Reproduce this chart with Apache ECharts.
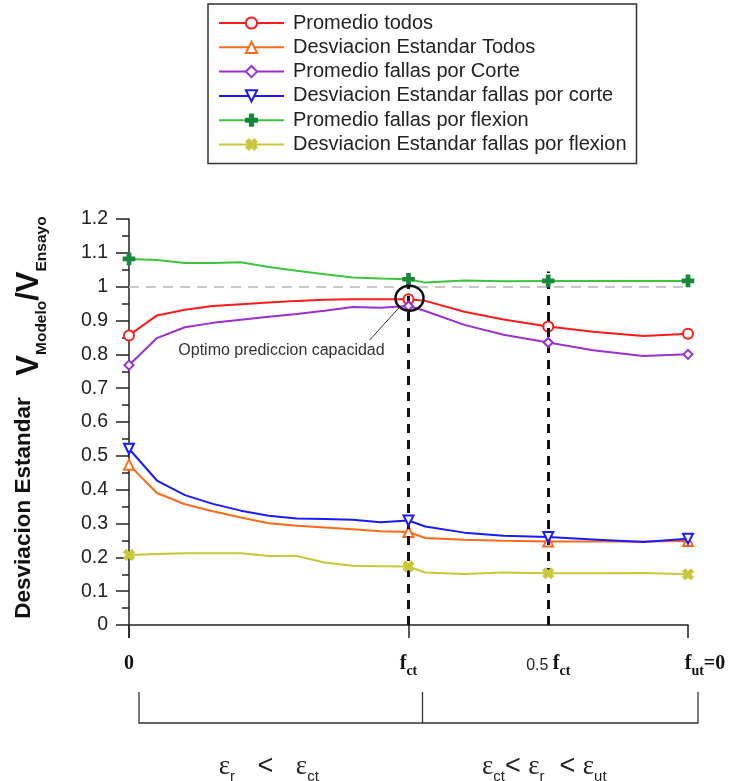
<!DOCTYPE html>
<html><head><meta charset="utf-8">
<script src="https://cdn.jsdelivr.net/npm/echarts@6/dist/echarts.min.js"></script>
<style>html,body{margin:0;padding:0;background:#fff}#c{width:735px;height:781px}</style>
</head><body><div id="c"></div>
<script>
// x positions along the axis (0 = 0, 0.5 = fct, 0.75 = 0.5 fct, 1 = fut=0)
const xPos = [0, 0.05, 0.1, 0.15, 0.2, 0.25, 0.3, 0.35, 0.4, 0.45, 0.5, 0.53, 0.6, 0.67, 0.75, 0.83, 0.92, 1.0];
const promTodos   = [0.856,0.915,0.932,0.943,0.948,0.953,0.958,0.961,0.963,0.963,0.963,0.958,0.926,0.903,0.882,0.867,0.854,0.861];
const desvTodos   = [0.474,0.390,0.357,0.336,0.318,0.301,0.293,0.288,0.283,0.277,0.275,0.257,0.252,0.249,0.247,0.247,0.247,0.248];
const promCorte   = [0.768,0.848,0.880,0.893,0.902,0.911,0.919,0.929,0.940,0.938,0.943,0.928,0.887,0.858,0.835,0.812,0.795,0.800];
const desvCorte   = [0.521,0.427,0.384,0.358,0.338,0.323,0.315,0.313,0.311,0.304,0.309,0.291,0.273,0.264,0.260,0.253,0.245,0.255];
const promFlexion = [1.082,1.079,1.070,1.070,1.072,1.058,1.047,1.037,1.027,1.024,1.022,1.012,1.018,1.016,1.017,1.017,1.017,1.017];
const desvFlexion = [0.207,0.210,0.212,0.212,0.212,0.204,0.204,0.185,0.175,0.174,0.173,0.155,0.151,0.155,0.153,0.153,0.154,0.150];
const markerX = [0, 0.5, 0.75, 1];
const xLabelValues = [0, 0.5, 0.75, 1];
const xLabelTexts = ['{b|0}', '{b|f}{bs|ct}', '{n|0.5 }{b|f}{bs|ct}', '{pad|}{b|f}{bs|ut}{b|=0}'];
const xTickValues = [0, 0.5, 1];
const refLineY = 1.0;
const vLines = [[0.5, 1.01], [0.75, 1.045]];
const seriesNames = ['Promedio todos','Desviacion Estandar Todos','Promedio fallas por Corte','Desviacion Estandar fallas por corte','Promedio fallas por flexion','Desviacion Estandar fallas por flexion'];
const seriesValues = [promTodos, desvTodos, promCorte, desvCorte, promFlexion, desvFlexion];

const PLUS = 'path://M3.6,0H6.4V3.6H10V6.4H6.4V10H3.6V6.4H0V3.6H3.6Z';
const styles = [
  {line:'#ff1a1a', mk:'#ff1a1a', symbol:'emptyCircle', size:10, rot:0},
  {line:'#ff6a1a', mk:'#ff6a1a', symbol:'emptyTriangle', size:10, rot:0},
  {line:'#9b30d0', mk:'#9b30d0', symbol:'emptyDiamond', size:9, rot:0},
  {line:'#1a1aff', mk:'#1a1aff', symbol:'emptyTriangle', size:10, rot:180},
  {line:'#3ec43e', mk:'#17893a', symbol:PLUS, size:11, rot:0},
  {line:'#c9c83a', mk:'#c9c83a', symbol:PLUS, size:11, rot:45}
];

const series = seriesValues.map((vals, i) => ({
  name: seriesNames[i],
  type: 'line',
  symbol: styles[i].symbol,
  symbolSize: styles[i].size,
  symbolRotate: styles[i].rot,
  showSymbol: true,
  lineStyle: {color: styles[i].line, width: 2},
  itemStyle: {color: styles[i].mk, borderColor: styles[i].mk, borderWidth: 1.6},
  emphasis: {disabled: true},
  z: 3 + i,
  data: xPos.map((x, k) => markerX.includes(x) ? {value: [x, vals[k]]} : {value: [x, vals[k]], symbol: 'none'})
}));

series.push({
  type: 'line', name: '_ref', data: [], silent: true, z: 1,
  markLine: {
    silent: true, symbol: 'none', animation: false,
    label: {show: false},
    lineStyle: {color: '#c8c8c8', width: 2, type: [10, 7]},
    data: [[{coord: [0, refLineY]}, {coord: [1, refLineY]}]]
  }
});
series.push({
  type: 'line', name: '_v', data: [], silent: true, z: 20,
  markLine: {
    silent: true, symbol: 'none', animation: false,
    label: {show: false},
    lineStyle: {color: '#111', width: 3, type: [9, 7]},
    data: vLines.map(v => [{coord: [v[0], 0]}, {coord: [v[0], v[1]]}])
  }
});

const option = {
  animation: false,
  backgroundColor: '#fff',
  grid: {left: 129, right: 47, top: 219, bottom: 156, containLabel: false},
  legend: {
    data: seriesNames,
    orient: 'vertical',
    left: 208, top: 4,
    padding: [9, 10, 9, 10],
    borderColor: '#333', borderWidth: 1.5,
    itemWidth: 65, itemHeight: 14, itemGap: 4.3,
    textStyle: {fontFamily: 'Liberation Sans, Arial', fontSize: 20, color: '#222', padding: [0, 0, 0, 4]},
    selectedMode: false
  },
  xAxis: {
    type: 'value', min: 0, max: 1,
    splitLine: {show: false},
    axisLine: {onZero: false, lineStyle: {color: '#222', width: 1.5}},
    axisTick: {show: true, inside: false, length: 13, customValues: xTickValues, lineStyle: {color: '#222', width: 1.5}},
    axisLabel: {
      show: true, margin: 25,
      customValues: xLabelValues,
      formatter: v => xLabelTexts[xLabelValues.indexOf(v)],
      rich: {
        b: {fontFamily: 'Liberation Serif', fontWeight: 'bold', fontSize: 20, color: '#111', verticalAlign: 'bottom', lineHeight: 24},
        bs: {fontFamily: 'Liberation Serif', fontWeight: 'bold', fontSize: 14, color: '#111', verticalAlign: 'bottom', lineHeight: 16, padding: [0, 0, -4, 0]},
        n: {fontFamily: 'Liberation Sans', fontSize: 16, color: '#222', verticalAlign: 'bottom', lineHeight: 24},
        pad: {width: 34}
      }
    }
  },
  yAxis: {
    type: 'value', min: 0, max: 1.2, interval: 0.1,
    splitLine: {show: false},
    axisLine: {show: true, lineStyle: {color: '#222', width: 1.5}},
    axisTick: {show: true, inside: false, length: 13, lineStyle: {color: '#222', width: 1.5}},
    minorTick: {show: true, splitNumber: 2, length: 7, lineStyle: {color: '#222', width: 1.5}},
    axisLabel: {
      margin: 21, fontFamily: 'Liberation Sans, Arial', fontSize: 19.5, color: '#222',
      formatter: v => String(Math.round(v * 10) / 10)
    }
  },
  series: series
};

const chart = echarts.init(document.getElementById('c'));
chart.setOption(option);

const px = (x, y) => chart.convertToPixel({gridIndex: 0}, [x, y]);
const iOpt = xPos.indexOf(0.5);
const optPt = px(0.5, promTodos[iOpt]);
const o = px(0, 0), f = px(0.5, 0), e = px(1, 0);
const brTop = o[1] + 67, brBot = o[1] + 98;

const epsRich = {
  e: {fontFamily: 'Liberation Serif', fontSize: 27, fill: '#222', verticalAlign: 'bottom', lineHeight: 28},
  s: {fontFamily: 'Liberation Sans', fontSize: 15, fill: '#222', verticalAlign: 'bottom', lineHeight: 15, padding: [0, 0, -4, 0]},
  o: {fontFamily: 'Liberation Sans', fontSize: 27, fill: '#222', verticalAlign: 'bottom', lineHeight: 28}
};

const graphic = [
  // y axis extension below zero
  {type: 'line', shape: {x1: o[0], y1: o[1], x2: o[0], y2: o[1] + 13}, style: {stroke: '#222', lineWidth: 1.5}},
  // ellipse around the optimum
  {type: 'ellipse', shape: {cx: optPt[0] + 1, cy: optPt[1] - 1, rx: 14, ry: 12.5}, style: {stroke: '#111', lineWidth: 2.5, fill: 'none'}, z: 30},
  // leader line
  {type: 'line', shape: {x1: optPt[0] - 9, y1: optPt[1] + 8, x2: optPt[0] - 39, y2: optPt[1] + 41}, style: {stroke: '#333', lineWidth: 1}, z: 30},
  {type: 'text', x: optPt[0] - 127, y: optPt[1] + 51, z: 30,
   style: {text: 'Optimo prediccion capacidad', fontFamily: 'Liberation Sans, Arial', fontSize: 16, fill: '#333', align: 'center', verticalAlign: 'middle'}},
  // y axis titles
  {type: 'text', x: 29, y: 296, rotation: Math.PI / 2,
   style: {text: '{v|V}{s|Modelo}{v|/V}{s|Ensayo}', align: 'center', verticalAlign: 'middle',
     rich: {
       v: {fontFamily: 'Liberation Sans, Arial', fontWeight: 'bold', fontSize: 31, fill: '#111', verticalAlign: 'bottom', lineHeight: 32},
       s: {fontFamily: 'Liberation Sans, Arial', fontWeight: 'bold', fontSize: 15.5, fill: '#111', verticalAlign: 'bottom', lineHeight: 15, padding: [0, 0, -5, 0]}
     }}},
  {type: 'text', x: 24, y: 508, rotation: Math.PI / 2,
   style: {text: 'Desviacion Estandar', align: 'center', verticalAlign: 'middle',
     fontFamily: 'Liberation Sans, Arial', fontWeight: 'bold', fontSize: 22.5, fill: '#111'}},
  // bracket
  {type: 'polyline', shape: {points: [[o[0] + 10, brTop], [o[0] + 10, brBot], [e[0] + 10, brBot], [e[0] + 10, brTop]]}, style: {stroke: '#333', lineWidth: 1.3, fill: 'none'}},
  {type: 'line', shape: {x1: f[0] + 14, y1: brTop, x2: f[0] + 14, y2: brBot}, style: {stroke: '#333', lineWidth: 1.3}},
  // region texts
  {type: 'text', x: (o[0] + f[0]) / 2 - 0, y: o[1] + 141,
   style: {text: '{e|ε}{s|r}{o|   <   }{e|ε}{s|ct}', align: 'center', verticalAlign: 'middle', rich: epsRich}},
  {type: 'text', x: (f[0] + e[0]) / 2 - 4, y: o[1] + 141,
   style: {text: '{e|ε}{s|ct}{o|< }{e|ε}{s|r}{o|  < }{e|ε}{s|ut}', align: 'center', verticalAlign: 'middle', rich: epsRich}}
];
chart.setOption({graphic: graphic});
</script>
</body></html>
